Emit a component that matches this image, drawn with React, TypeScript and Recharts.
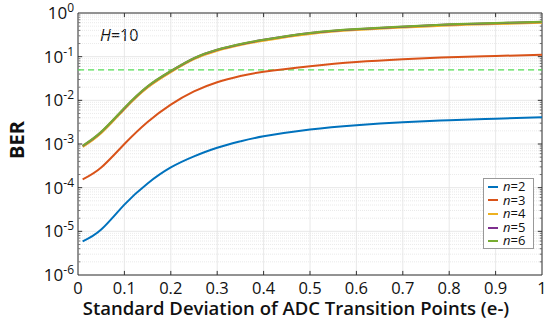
import React from "react"
import { CartesianGrid, Line, LineChart, ReferenceArea, ReferenceLine, XAxis, YAxis } from "recharts"

// sigma of ADC transition points (e-)
const sigma = [0.01, 0.05, 0.1, 0.15, 0.2, 0.25, 0.3, 0.35, 0.4, 0.5, 0.6, 0.7, 0.8, 0.9, 1.0]

// BER for each resolution n (H=10)
const ber2 = [5.9e-6, 1.1e-5, 4.1e-5, 1.25e-4, 2.9e-4, 5.2e-4, 8.2e-4, 1.15e-3, 1.5e-3, 2.15e-3, 2.7e-3, 3.15e-3, 3.5e-3, 3.8e-3, 4.1e-3]
const ber3 = [1.55e-4, 2.9e-4, 1.0e-3, 3.2e-3, 8.0e-3, 0.016, 0.026, 0.036, 0.045, 0.06, 0.075, 0.087, 0.097, 0.104, 0.11]
const ber4 = [8.7e-4, 1.8e-3, 6.4e-3, 0.02, 0.045, 0.089, 0.139, 0.187, 0.235, 0.336, 0.413, 0.47, 0.528, 0.566, 0.605]
const ber5 = [9.0e-4, 1.88e-3, 6.6e-3, 0.0207, 0.0465, 0.092, 0.144, 0.193, 0.243, 0.347, 0.426, 0.485, 0.545, 0.585, 0.625]
const ber6 = [9.1e-4, 1.9e-3, 6.7e-3, 0.021, 0.047, 0.093, 0.145, 0.195, 0.245, 0.35, 0.43, 0.49, 0.55, 0.59, 0.63]

const threshold = 0.05

const xTicks = [0, 0.1, 0.2, 0.3, 0.4, 0.5, 0.6, 0.7, 0.8, 0.9, 1]
const yTicks = [1e-6, 1e-5, 1e-4, 1e-3, 1e-2, 1e-1, 1]
const yExps = ["-6", "-5", "-4", "-3", "-2", "-1", "0"]

const seriesKeys = ["n2", "n3", "n4", "n5", "n6"]
const seriesNames = ["2", "3", "4", "5", "6"]
const seriesColors = ["#0072BD", "#D95319", "#EDB120", "#7E2F8E", "#77AC30"]

const data = sigma.map((s, i) => ({
  s,
  n2: ber2[i],
  n3: ber3[i],
  n4: ber4[i],
  n5: ber5[i],
  n6: ber6[i],
}))

// minor log grid values (2..9 x 10^k)
const minorY: number[] = []
for (let k = -6; k < 0; k++) {
  for (let m = 2; m <= 9; m++) minorY.push(m * Math.pow(10, k))
}

const FONT = "'Open Sans', 'DejaVu Sans', sans-serif"

const YTick = (props: any) => {
  const { x, y, payload } = props
  const idx = yTicks.indexOf(payload.value)
  return (
    <text x={x - 4} y={y + 6} textAnchor="end" fontSize={17} fill="#111" fontFamily={FONT}>
      10
      <tspan dy={-7} fontSize={12}>
        {yExps[idx]}
      </tspan>
    </text>
  )
}

export default function App() {
  const tickUp = 1.24
  return (
    <div style={{ position: "absolute", left: 0, top: 0, width: 550, height: 331, background: "#fff" }}>
      <LineChart width={550} height={331} data={data} margin={{ top: 13, right: 8, left: 0, bottom: 0 }}>
        <CartesianGrid stroke="#e2e2e2" strokeWidth={0.8} />
        {minorY.map((v) => (
          <ReferenceLine key={"m" + v} y={v} stroke="#e4e4e4" strokeDasharray="1 1" strokeWidth={0.8} />
        ))}
        <XAxis
          dataKey="s"
          type="number"
          domain={[0, 1]}
          ticks={xTicks}
          tickLine={false}
          axisLine={false}
          tickSize={0}
          tickMargin={7}
          height={56}
          tick={{ fontSize: 16.5, fill: "#111", fontFamily: FONT }}
        />
        <YAxis
          scale="log"
          type="number"
          domain={[1e-6, 1]}
          ticks={yTicks}
          allowDataOverflow
          tickLine={false}
          axisLine={false}
          tickSize={0}
          tickMargin={0}
          width={78}
          tick={<YTick />}
        />
        {/* inward ticks, log minor ticks on left and right */}
        {xTicks.slice(1, -1).map((t) => (
          <ReferenceLine key={"xb" + t} segment={[{ x: t, y: 1e-6 }, { x: t, y: 1e-6 * tickUp }]} stroke="#333" />
        ))}
        {xTicks.slice(1, -1).map((t) => (
          <ReferenceLine key={"xt" + t} segment={[{ x: t, y: 1 }, { x: t, y: 1 / tickUp }]} stroke="#333" />
        ))}
        {yTicks.slice(1, -1).map((t) => (
          <ReferenceLine key={"yl" + t} segment={[{ x: 0, y: t }, { x: 0.009, y: t }]} stroke="#333" />
        ))}
        {yTicks.slice(1, -1).map((t) => (
          <ReferenceLine key={"yr" + t} segment={[{ x: 1, y: t }, { x: 0.991, y: t }]} stroke="#333" />
        ))}
        {minorY.map((t) => (
          <ReferenceLine key={"ml" + t} segment={[{ x: 0, y: t }, { x: 0.005, y: t }]} stroke="#555" strokeWidth={0.8} />
        ))}
        {minorY.map((t) => (
          <ReferenceLine key={"mr" + t} segment={[{ x: 1, y: t }, { x: 0.995, y: t }]} stroke="#555" strokeWidth={0.8} />
        ))}
        <ReferenceLine y={threshold} stroke="#55e055" strokeDasharray="6 4" strokeWidth={1.3} />
        {seriesKeys.map((k, i) => (
          <Line
            key={k}
            dataKey={k}
            type="natural"
            stroke={seriesColors[i]}
            strokeWidth={i === 2 ? 2.6 : 2}
            dot={false}
            isAnimationActive={false}
            name={"n=" + seriesNames[i]}
          />
        ))}
        <ReferenceArea x1={0} x2={1} y1={1e-6} y2={1} fill="none" stroke="#333" strokeWidth={1} ifOverflow="visible" />
        <text x={16} y={140} transform="rotate(-90 16 140)" textAnchor="middle" dominantBaseline="central" fontSize={20} fontWeight={700} fill="#111" fontFamily={FONT}>
          BER
        </text>
        <text x={296} y={315} textAnchor="middle" fontSize={18.5} fontWeight={600} fill="#111" fontFamily={FONT}>
          Standard Deviation of ADC Transition Points (e-)
        </text>
        <text x={100} y={41} fontSize={16} fill="#111" fontFamily={FONT}>
          <tspan fontStyle="italic">H</tspan>=10
        </text>
      </LineChart>
      <div
        style={{
          position: "absolute",
          left: 483,
          top: 178,
          width: 51,
          height: 71,
          border: "1px solid #999",
          background: "#fff",
          boxSizing: "border-box",
          padding: "1px 0",
          fontFamily: FONT,
          fontSize: 13,
          lineHeight: "13.6px",
          color: "#111",
        }}
      >
        {seriesNames.map((n, i) => (
          <div key={n} style={{ display: "flex", alignItems: "center", height: 13.6 }}>
            <div style={{ width: 10, height: 2, background: seriesColors[i], marginLeft: 4, marginRight: 5 }} />
            <span>
              <i>n</i>={n}
            </span>
          </div>
        ))}
      </div>
    </div>
  )
}
